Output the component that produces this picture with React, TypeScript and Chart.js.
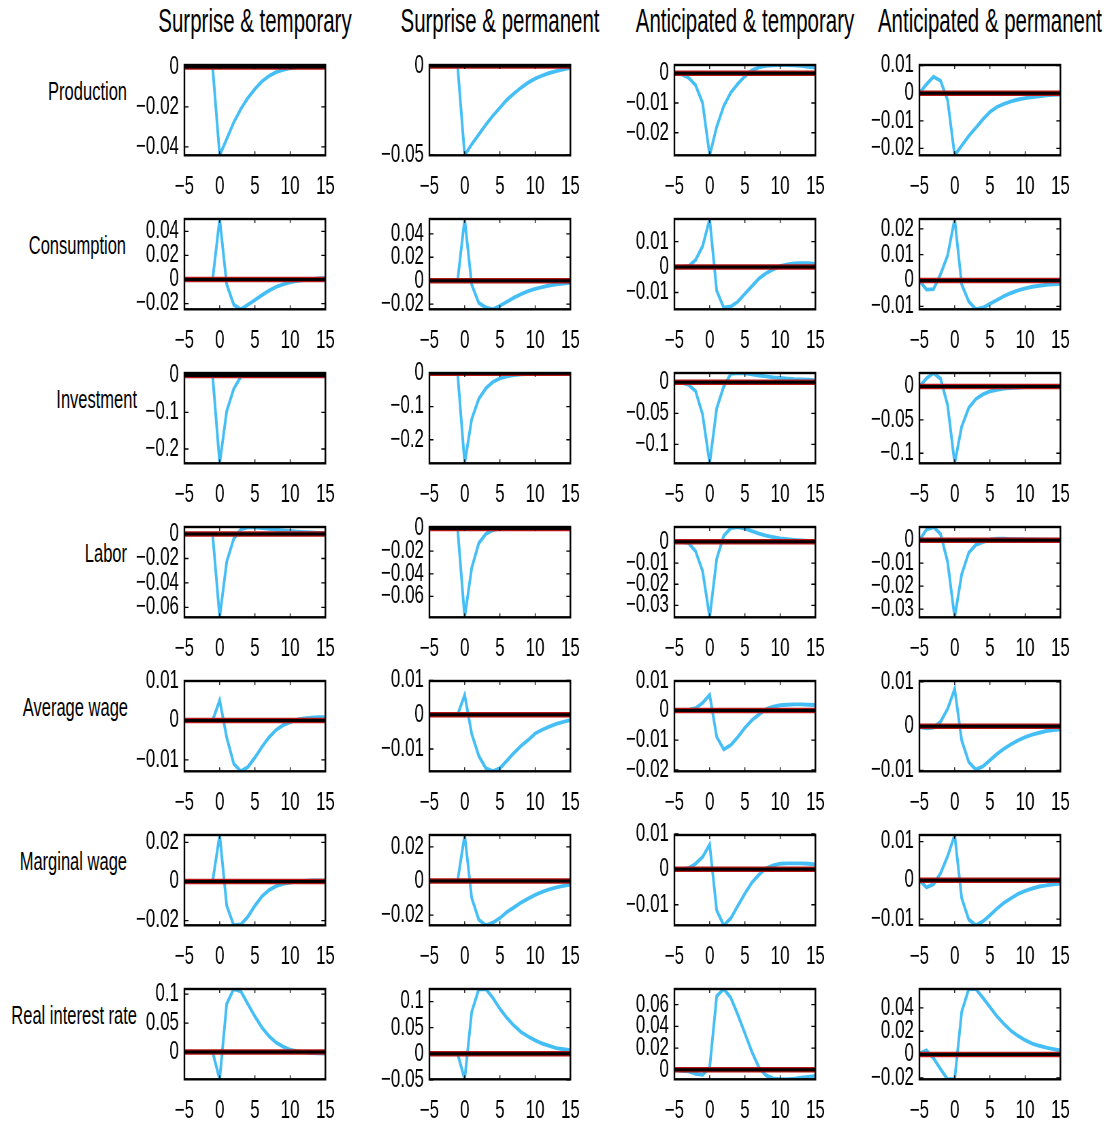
import React, { useEffect, useRef } from "react";
import { Chart, registerables } from "chart.js";

Chart.register(...registerables);

// ---------------- DATA ----------------
const periods = [-5, -4, -3, -2, -1, 0, 1, 2, 3, 4, 5, 6, 7, 8, 9, 10, 11, 12, 13, 14, 15];
const xTickValues = [-5, 0, 5, 10, 15];

const shockTitles = ["Surprise & temporary", "Surprise & permanent", "Anticipated & temporary", "Anticipated & permanent"];
const variableNames = ["Production", "Consumption", "Investment", "Labor", "Average wage", "Marginal wage", "Real interest rate"];

// Production
const productionST = [0, 0, 0, 0, 0, -0.0442, -0.036, -0.0277, -0.021, -0.0155, -0.011, -0.0072, -0.0045, -0.0026, -0.0014, -0.0006, 0, 0.0003, 0.0005, 0.0006, 0.0006];
const productionSP = [0, 0, 0, 0, 0, -0.0502, -0.044, -0.0385, -0.033, -0.028, -0.0235, -0.019, -0.0155, -0.0122, -0.0094, -0.0072, -0.0054, -0.004, -0.0029, -0.0019, -0.0011];
const productionAT = [0, -0.0003, -0.0015, -0.004, -0.01, -0.0276, -0.018, -0.011, -0.0065, -0.0035, -0.001, 0.001, 0.002, 0.0025, 0.0027, 0.0028, 0.0028, 0.0027, 0.0025, 0.0022, 0.0019];
const productionAP = [0, 0.0032, 0.006, 0.0045, -0.0025, -0.0225, -0.019, -0.0155, -0.0125, -0.0095, -0.0068, -0.005, -0.0039, -0.003, -0.0023, -0.0018, -0.0014, -0.0011, -0.0008, -0.0006, -0.0005];

// Consumption
const consumptionST = [0, 0, 0, 0, 0, 0.0503, -0.004, -0.021, -0.0248, -0.021, -0.017, -0.013, -0.0093, -0.0062, -0.004, -0.0024, -0.0012, -0.0004, 0.0003, 0.0008, 0.0012];
const consumptionSP = [0, 0, 0, 0, 0, 0.0527, -0.0034, -0.019, -0.023, -0.0245, -0.0215, -0.018, -0.0145, -0.0115, -0.009, -0.007, -0.0055, -0.0042, -0.0032, -0.0025, -0.0019];
const consumptionAT = [0, 0, 0.0003, 0.0028, 0.0082, 0.0189, -0.0093, -0.016, -0.0155, -0.0136, -0.0105, -0.0075, -0.0045, -0.0024, -0.0009, 0.0004, 0.001, 0.0014, 0.0015, 0.0015, 0.0012];
const consumptionAP = [0, -0.0035, -0.0033, 0.0025, 0.0097, 0.0238, -0.0015, -0.0081, -0.0111, -0.0105, -0.009, -0.0075, -0.006, -0.0048, -0.0038, -0.003, -0.0024, -0.002, -0.0016, -0.0014, -0.0012];

// Investment
const investmentST = [0, 0, 0, 0, 0, -0.239, -0.097, -0.036, -0.003, 0.006, 0.007, 0.007, 0.0065, 0.006, 0.005, 0.004, 0.003, 0.0025, 0.002, 0.0015, 0.001];
const investmentSP = [0, 0, 0, 0, 0, -0.271, -0.138, -0.077, -0.045, -0.026, -0.015, -0.009, -0.005, -0.003, -0.0018, -0.001, -0.0007, -0.0005, -0.0003, -0.0002, -0.0001];
const investmentAT = [0, -0.0005, -0.004, -0.014, -0.052, -0.1306, -0.042, -0.0066, 0.0135, 0.015, 0.0145, 0.013, 0.011, 0.0095, 0.008, 0.007, 0.006, 0.005, 0.0045, 0.004, 0.003];
const investmentAP = [0, 0.012, 0.02, 0.0115, -0.028, -0.115, -0.06, -0.032, -0.019, -0.012, -0.0075, -0.005, -0.0033, -0.0023, -0.0016, -0.0011, -0.0008, -0.0006, -0.0004, -0.0003, -0.0002];

// Labor
const laborST = [0, 0, 0, 0, 0, -0.0682, -0.0227, -0.0038, 0.0038, 0.0055, 0.0056, 0.005, 0.0043, 0.0036, 0.003, 0.0025, 0.002, 0.0016, 0.0013, 0.001, 0.0008];
const laborSP = [0, 0, 0, 0, 0, -0.0784, -0.0349, -0.013, -0.0049, -0.0015, 0, 0.0005, 0.0008, 0.0009, 0.0009, 0.0008, 0.0007, 0.0006, 0.0005, 0.0004, 0.0003];
const laborAT = [0, 0, -0.0005, -0.0044, -0.0138, -0.0356, -0.008, 0.0029, 0.0065, 0.007, 0.0063, 0.0051, 0.0039, 0.0029, 0.0022, 0.0016, 0.0012, 0.0009, 0.0006, 0.0004, 0.0003];
const laborAP = [0, 0.0047, 0.0058, 0.0027, -0.0094, -0.0336, -0.0148, -0.0054, -0.002, -0.0008, 0.0003, 0.0007, 0.0007, 0.0005, 0.0005, 0.0004, 0.0004, 0.0003, 0.0003, 0.0002, 0.0002];

// Average wage
const avgWageST = [0, 0, 0, 0, 0, 0.0051, -0.0043, -0.011, -0.0129, -0.0118, -0.0094, -0.0067, -0.0043, -0.0024, -0.0012, -0.0004, 0.0002, 0.0005, 0.0007, 0.0008, 0.0008];
const avgWageSP = [0, 0, 0, 0, 0, 0.0057, -0.0056, -0.012, -0.0156, -0.0165, -0.0156, -0.0134, -0.0111, -0.0091, -0.0074, -0.0055, -0.0044, -0.0035, -0.0027, -0.0021, -0.0016];
const avgWageAT = [0, 0, 0.0002, 0.0008, 0.0026, 0.0053, -0.0089, -0.0131, -0.0116, -0.0089, -0.0058, -0.0032, -0.0013, 0.0005, 0.0013, 0.0018, 0.002, 0.0021, 0.0021, 0.002, 0.0019];
const avgWageAP = [-0.0002, -0.0005, -0.0003, 0.001, 0.0039, 0.0084, -0.0032, -0.0081, -0.0098, -0.0091, -0.0077, -0.0063, -0.0051, -0.0041, -0.0032, -0.0025, -0.0019, -0.0015, -0.0011, -0.0009, -0.0007];

// Marginal wage
const margWageST = [0, 0, 0, 0, 0, 0.0238, -0.0124, -0.0224, -0.022, -0.018, -0.0124, -0.0076, -0.0044, -0.0024, -0.0012, -0.0005, 0, 0.0003, 0.0005, 0.0006, 0.0006];
const margWageSP = [0, 0, 0, 0, 0, 0.0269, -0.01, -0.0227, -0.026, -0.0245, -0.0218, -0.0182, -0.0155, -0.0127, -0.0104, -0.0082, -0.0064, -0.005, -0.0038, -0.0029, -0.0022];
const margWageAT = [0, 0, 0.0003, 0.0016, 0.0035, 0.007, -0.0116, -0.0158, -0.0138, -0.0103, -0.0068, -0.0037, -0.0015, 0.0003, 0.0011, 0.0016, 0.0017, 0.0017, 0.0017, 0.0016, 0.0014];
const margWageAP = [0, -0.0018, -0.001, 0.0018, 0.0062, 0.0117, -0.0046, -0.0101, -0.0116, -0.0106, -0.009, -0.0073, -0.0058, -0.0046, -0.0035, -0.0027, -0.0021, -0.0016, -0.0013, -0.001, -0.0008];

// Real interest rate
const rateST = [0, 0, 0, 0, 0, -0.047, 0.0835, 0.109, 0.105, 0.083, 0.0616, 0.0423, 0.0275, 0.0165, 0.0094, 0.004, 0.0012, -0.0005, -0.0015, -0.002, -0.0025];
const rateSP = [0, 0, 0, 0, 0, -0.049, 0.08, 0.1235, 0.124, 0.107, 0.086, 0.0686, 0.0536, 0.0418, 0.0329, 0.0257, 0.0196, 0.015, 0.0107, 0.0085, 0.0066];
const rateAT = [0, -0.0009, -0.0014, -0.0037, -0.0046, 0.002, 0.0678, 0.0744, 0.0664, 0.0506, 0.0335, 0.0163, 0.002, -0.0052, -0.008, -0.0088, -0.0088, -0.0083, -0.0074, -0.0066, -0.0057];
const rateAP = [0.0008, 0.0035, -0.0032, -0.0125, -0.0213, -0.0213, 0.0368, 0.0563, 0.0563, 0.0488, 0.0408, 0.0328, 0.0262, 0.0203, 0.016, 0.0123, 0.0094, 0.0075, 0.0059, 0.0046, 0.0035];

// y tick labels per variable, one list per shock column
const productionTicks = [[0, -0.02, -0.04], [0, -0.05], [0, -0.01, -0.02], [0.01, 0, -0.01, -0.02]];
const consumptionTicks = [[0.04, 0.02, 0, -0.02], [0.04, 0.02, 0, -0.02], [0.01, 0, -0.01], [0.02, 0.01, 0, -0.01]];
const investmentTicks = [[0, -0.1, -0.2], [0, -0.1, -0.2], [0, -0.05, -0.1], [0, -0.05, -0.1]];
const laborTicks = [[0, -0.02, -0.04, -0.06], [0, -0.02, -0.04, -0.06], [0, -0.01, -0.02, -0.03], [0, -0.01, -0.02, -0.03]];
const avgWageTicks = [[0.01, 0, -0.01], [0.01, 0, -0.01], [0.01, 0, -0.01, -0.02], [0.01, 0, -0.01]];
const margWageTicks = [[0.02, 0, -0.02], [0.02, 0, -0.02], [0.01, 0, -0.01], [0.01, 0, -0.01]];
const rateTicks = [[0.1, 0.05, 0], [0.1, 0.05, 0, -0.05], [0.06, 0.04, 0.02, 0], [0.04, 0.02, 0, -0.02]];

// y-axis limits [min, max] per variable, one pair per shock column
const productionRange = [[-0.0442, 0.001], [-0.0502, 0.0005], [-0.0276, 0.0028], [-0.0225, 0.0102]];
const consumptionRange = [[-0.0248, 0.0503], [-0.0245, 0.0527], [-0.0166, 0.0189], [-0.0111, 0.0238]];
const investmentRange = [[-0.239, 0.007], [-0.271, 0.001], [-0.1306, 0.015], [-0.115, 0.02]];
const laborRange = [[-0.0682, 0.0058], [-0.0784, 0.0013], [-0.0356, 0.007], [-0.0336, 0.0058]];
const avgWageRange = [[-0.0129, 0.01], [-0.0165, 0.0098], [-0.0205, 0.01], [-0.0102, 0.0102]];
const margWageRange = [[-0.0224, 0.0238], [-0.026, 0.0269], [-0.0158, 0.0097], [-0.0116, 0.0117]];
const rateRange = [[-0.047, 0.109], [-0.049, 0.124], [-0.0088, 0.0744], [-0.0213, 0.0563]];

const seriesGrid = [
  [productionST, productionSP, productionAT, productionAP],
  [consumptionST, consumptionSP, consumptionAT, consumptionAP],
  [investmentST, investmentSP, investmentAT, investmentAP],
  [laborST, laborSP, laborAT, laborAP],
  [avgWageST, avgWageSP, avgWageAT, avgWageAP],
  [margWageST, margWageSP, margWageAT, margWageAP],
  [rateST, rateSP, rateAT, rateAP],
];
const ticksGrid = [productionTicks, consumptionTicks, investmentTicks, laborTicks, avgWageTicks, margWageTicks, rateTicks];
const rangeGrid = [productionRange, consumptionRange, investmentRange, laborRange, avgWageRange, margWageRange, rateRange];

// ---------------- LAYOUT / STYLE ----------------
const FONT = "'Liberation Sans', Arial, Helvetica, sans-serif";
const BLUE = "#45BEF5";
const RED = "#B81414";
const S = 0.68; // horizontal squeeze of the panels
const AXIS_W = 80;
const PAD_TOP = 16;
const XAXIS_H = 45;
const CW = 320;
const CH = 159;
const PLOT_W = 141;
const PLOT_H = 97.3;
const PAD_RIGHT = CW - AXIS_W - PLOT_W / S;
const PAD_BOTTOM = CH - PAD_TOP - XAXIS_H - PLOT_H;

const colLefts = [184, 429, 674, 919];
const rowTops = [58.3, 212.3, 366.3, 520.3, 674.3, 828.3, 982.3];
const rowLabelRight = [127, 126, 137, 127, 128, 127, 137];

const fmt = (v: number) => {
  const n = Number(Number(v).toPrecision(6));
  if (n === 0) return "0";
  return (n < 0 ? "\u2212" : "") + String(Math.abs(n));
};

const frameTicksPlugin = {
  id: "frameTicks",
  afterDatasetsDraw(chart: any) {
    const { ctx, chartArea } = chart;
    const { left, right, top, bottom } = chartArea;
    const xs = chart.scales.x;
    const ys = chart.scales.y;
    ctx.save();
    ctx.strokeStyle = "#000";
    ctx.lineWidth = 1.3;
    ctx.beginPath();
    xs.ticks.forEach((t: any) => {
      const px = xs.getPixelForValue(t.value);
      ctx.moveTo(px, bottom);
      ctx.lineTo(px, bottom - 4);
      ctx.moveTo(px, top);
      ctx.lineTo(px, top + 4);
    });
    ys.ticks.forEach((t: any) => {
      const py = ys.getPixelForValue(t.value);
      ctx.moveTo(left, py);
      ctx.lineTo(left + 6, py);
      ctx.moveTo(right, py);
      ctx.lineTo(right - 6, py);
    });
    ctx.stroke();
    ctx.lineWidth = 2.4;
    ctx.strokeRect(left, top, right - left, bottom - top);
    ctx.restore();
  },
};

type PanelProps = { values: number[]; ticks: number[]; range: number[]; left: number; top: number };

function Panel({ values, ticks, range, left, top }: PanelProps) {
  const ref = useRef<HTMLCanvasElement>(null);
  useEffect(() => {
    const canvas = ref.current;
    if (!canvas) return;
    const zero = [
      { x: periods[0], y: 0 },
      { x: periods[periods.length - 1], y: 0 },
    ];
    const chart = new Chart(canvas, {
      type: "line",
      data: {
        datasets: [
          { data: zero, borderColor: "#000", borderWidth: 3, pointRadius: 0, clip: 0 } as any,
          { data: zero, borderColor: RED, borderWidth: 5.5, pointRadius: 0, clip: 0 } as any,
          {
            data: periods.map((p, i) => ({ x: p, y: values[i] })),
            borderColor: BLUE,
            borderWidth: 3.9,
            pointRadius: 0,
            tension: 0,
            clip: 0,
          } as any,
        ],
      },
      options: {
        responsive: false,
        animation: false,
        events: [],
        plugins: { legend: { display: false }, tooltip: { enabled: false } },
        layout: { padding: { top: PAD_TOP, right: PAD_RIGHT, bottom: PAD_BOTTOM, left: 0 } },
        scales: {
          x: {
            type: "linear",
            min: periods[0],
            max: periods[periods.length - 1],
            grid: { display: false, drawTicks: false },
            border: { display: false },
            ticks: {
              color: "#000",
              font: { family: FONT, size: 25 },
              padding: 17,
              maxRotation: 0,
              autoSkip: false,
              callback: (v: any) => fmt(v),
            },
            afterBuildTicks: (s: any) => {
              s.ticks = xTickValues.map((v) => ({ value: v }));
            },
            afterFit: (s: any) => {
              s.height = XAXIS_H;
            },
          },
          y: {
            type: "linear",
            min: range[0],
            max: range[1],
            grid: { display: false, drawTicks: false },
            border: { display: false },
            ticks: {
              color: "#000",
              font: { family: FONT, size: 25 },
              padding: 8,
              autoSkip: false,
              callback: (v: any) => fmt(v),
            },
            afterBuildTicks: (s: any) => {
              s.ticks = ticks.map((v) => ({ value: v }));
            },
            afterFit: (s: any) => {
              s.width = AXIS_W;
            },
          },
        } as any,
      },
      plugins: [frameTicksPlugin],
    });
    return () => chart.destroy();
  }, [values, ticks, range]);

  return (
    <div
      style={{
        position: "absolute",
        left: left - AXIS_W * S,
        top: top - PAD_TOP,
        width: CW,
        height: CH,
        transform: `scaleX(${S})`,
        transformOrigin: "0 0",
      }}
    >
      <canvas ref={ref} width={CW} height={CH} style={{ width: CW, height: CH, display: "block" }} />
    </div>
  );
}

export default function App() {
  return (
    <div
      style={{
        position: "absolute",
        left: 0,
        top: 0,
        width: 1112,
        height: 1126,
        overflow: "hidden",
        background: "#fff",
        fontFamily: FONT,
        color: "#000",
      }}
    >
      {shockTitles.map((t, c) => (
        <div
          key={"t" + c}
          style={{
            position: "absolute",
            left: colLefts[c] + PLOT_W / 2 - 250,
            top: 4,
            width: 500,
            fontSize: 33,
            lineHeight: "33px",
            textAlign: "center",
            whiteSpace: "nowrap",
            transform: "scaleX(0.62)",
            transformOrigin: "50% 50%",
          }}
        >
          {t}
        </div>
      ))}
      {variableNames.map((name, r) => (
        <div
          key={"r" + r}
          style={{
            position: "absolute",
            left: rowLabelRight[r] - 300,
            top: rowTops[r] + 20.9,
            width: 300,
            fontSize: 25,
            lineHeight: "25px",
            textAlign: "right",
            whiteSpace: "nowrap",
            transform: "scaleX(0.66)",
            transformOrigin: "100% 50%",
          }}
        >
          {name}
        </div>
      ))}
      {seriesGrid.map((row, r) =>
        row.map((values, c) => (
          <Panel
            key={`p${r}-${c}`}
            values={values}
            ticks={ticksGrid[r][c]}
            range={rangeGrid[r][c]}
            left={colLefts[c]}
            top={rowTops[r]}
          />
        ))
      )}
    </div>
  );
}
